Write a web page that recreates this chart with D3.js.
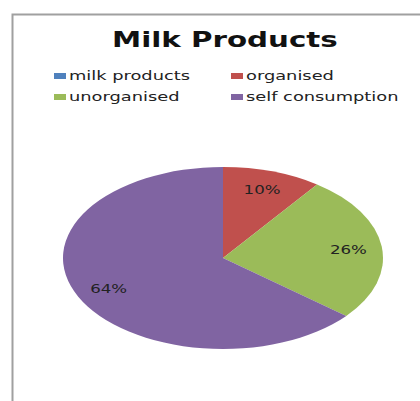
<!DOCTYPE html>
<html><head><meta charset="utf-8">
<script src="https://cdn.jsdelivr.net/npm/d3@7"></script>
<style>body{margin:0;background:#fff}svg{display:block}</style>
</head><body>
<svg id="c" width="420" height="401"></svg>
<script>
const categories = ["milk products", "organised", "unorganised", "self consumption"];
const values = [0, 10, 26, 64];
const colors = ["#4F81BD", "#C0504D", "#9BBB59", "#8064A2"];
const title = "Milk Products";

const svg = d3.select("#c");
const font = "DejaVu Sans, Verdana, sans-serif";
function widen(sel, stretch) {
  sel.each(function () {
    const w = this.getComputedTextLength();
    d3.select(this).attr("textLength", w * stretch).attr("lengthAdjust", "spacingAndGlyphs");
  });
}

// frame
svg.append("rect").attr("x", 12.5).attr("y", 14.5).attr("width", 420).attr("height", 400)
  .attr("fill", "#fff").attr("stroke", "#a0a0a0").attr("stroke-width", 2);

const t = svg.append("text").attr("x", 112).attr("y", 47)
  .attr("font-family", font).attr("font-weight", "bold").attr("font-size", 20.5)
  .attr("fill", "#111").text(title);
widen(t, 1.43);

// legend
const legPos = [[54, 80], [231, 80], [54, 101], [231, 101]];
categories.forEach((c, i) => {
  const g = svg.append("g").attr("transform", `translate(${legPos[i][0]},${legPos[i][1]})`);
  g.append("rect").attr("x", 0).attr("y", -7).attr("width", 12).attr("height", 6).attr("fill", colors[i]);
  const tx = g.append("text").attr("x", 15).attr("y", 0).attr("font-family", font).attr("font-size", 13)
    .attr("fill", "#222").text(c);
  widen(tx, 1.37);
});

// pie (ellipse via scale)
const cx = 223, cy = 258, rx = 160, ry = 91;
const pie = d3.pie().sort(null).value(d => d)(values);
const arc = d3.arc().innerRadius(0).outerRadius(rx);
const pg = svg.append("g").attr("transform", `translate(${cx},${cy})`);
const sg = pg.append("g").attr("transform", `scale(1,${ry / rx})`);
sg.selectAll("path").data(pie).join("path")
  .attr("d", arc).attr("fill", (d, i) => colors[i]);

const labArc = d3.arc().innerRadius(rx * 0.79).outerRadius(rx * 0.79);
pie.forEach((d, i) => {
  if (!d.data) return;
  const [x, y] = labArc.centroid(d);
  const lt = pg.append("text").attr("y", y * ry / rx + 4.5)
    .attr("font-family", font).attr("font-size", 12.5).attr("fill", "#222")
    .text(d.data + "%");
  const w = lt.node().getComputedTextLength() * 1.33;
  lt.attr("x", x - w / 2).attr("textLength", w).attr("lengthAdjust", "spacingAndGlyphs");
});
</script>
</body></html>
